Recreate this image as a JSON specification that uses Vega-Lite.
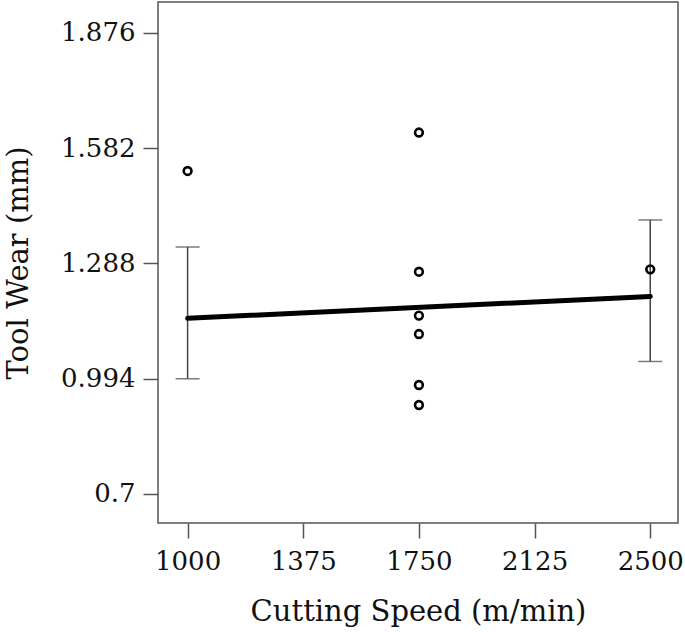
{
  "$schema": "https://vega.github.io/schema/vega-lite/v6.json",
  "width": 520,
  "height": 521,
  "autosize": "none",
  "padding": {"left": 158, "top": 2, "right": 7, "bottom": 109},
  "background": "white",
  "config": {
    "view": {"stroke": "#555555", "strokeWidth": 1.5},
    "axis": {
      "grid": false,
      "domain": false,
      "tickColor": "#555555",
      "tickWidth": 1.5,
      "tickSize": 15,
      "labelFont": "DejaVu Serif",
      "labelFontSize": 26,
      "labelColor": "#111111",
      "titleFont": "DejaVu Serif",
      "titleFontSize": 29,
      "titleFontWeight": "normal",
      "titleColor": "#111111"
    }
  },
  "datasets": {
    "points": [
      {"speed": 1000, "wear": 1.524},
      {"speed": 1750, "wear": 1.622},
      {"speed": 1750, "wear": 1.267},
      {"speed": 1750, "wear": 1.155},
      {"speed": 1750, "wear": 1.108},
      {"speed": 1750, "wear": 0.978},
      {"speed": 1750, "wear": 0.927},
      {"speed": 2500, "wear": 1.273}
    ],
    "errors": [
      {"speed": 1000, "low": 0.994, "high": 1.330},
      {"speed": 2500, "low": 1.038, "high": 1.399}
    ],
    "fit": [
      {"speed": 1000, "wear": 1.148},
      {"speed": 2500, "wear": 1.204}
    ]
  },
  "layer": [
    {
      "data": {"name": "errors"},
      "mark": {"type": "rule", "color": "#444444", "strokeWidth": 1.5},
      "encoding": {
        "x": {"field": "speed", "type": "quantitative", "scale": {"domain": [904, 2590], "nice": false, "zero": false},
              "axis": {"values": [1000, 1375, 1750, 2125, 2500], "labelExpr": "datum.value", "title": "Cutting Speed (m/min)", "labelPadding": 10, "titlePadding": 23}},
        "y": {"field": "low", "type": "quantitative", "scale": {"domain": [0.626, 1.955], "nice": false, "zero": false},
              "axis": {"values": [0.7, 0.994, 1.288, 1.582, 1.876], "labelExpr": "datum.value", "title": "Tool Wear (mm)", "labelPadding": 8, "titlePadding": 27}},
        "y2": {"field": "high"}
      }
    },
    {
      "data": {"name": "errors"},
      "mark": {"type": "tick", "orient": "horizontal", "color": "#444444", "thickness": 1.5, "size": 24},
      "encoding": {
        "x": {"field": "speed", "type": "quantitative"},
        "y": {"field": "low", "type": "quantitative"}
      }
    },
    {
      "data": {"name": "errors"},
      "mark": {"type": "tick", "orient": "horizontal", "color": "#444444", "thickness": 1.5, "size": 24},
      "encoding": {
        "x": {"field": "speed", "type": "quantitative"},
        "y": {"field": "high", "type": "quantitative"}
      }
    },
    {
      "data": {"name": "fit"},
      "mark": {"type": "line", "color": "#000000", "strokeWidth": 5, "strokeCap": "round"},
      "encoding": {
        "x": {"field": "speed", "type": "quantitative"},
        "y": {"field": "wear", "type": "quantitative"}
      }
    },
    {
      "data": {"name": "points"},
      "mark": {"type": "point", "shape": "circle", "filled": false, "color": "#000000", "strokeWidth": 2.6, "size": 60, "opacity": 1},
      "encoding": {
        "x": {"field": "speed", "type": "quantitative"},
        "y": {"field": "wear", "type": "quantitative"}
      }
    }
  ]
}
